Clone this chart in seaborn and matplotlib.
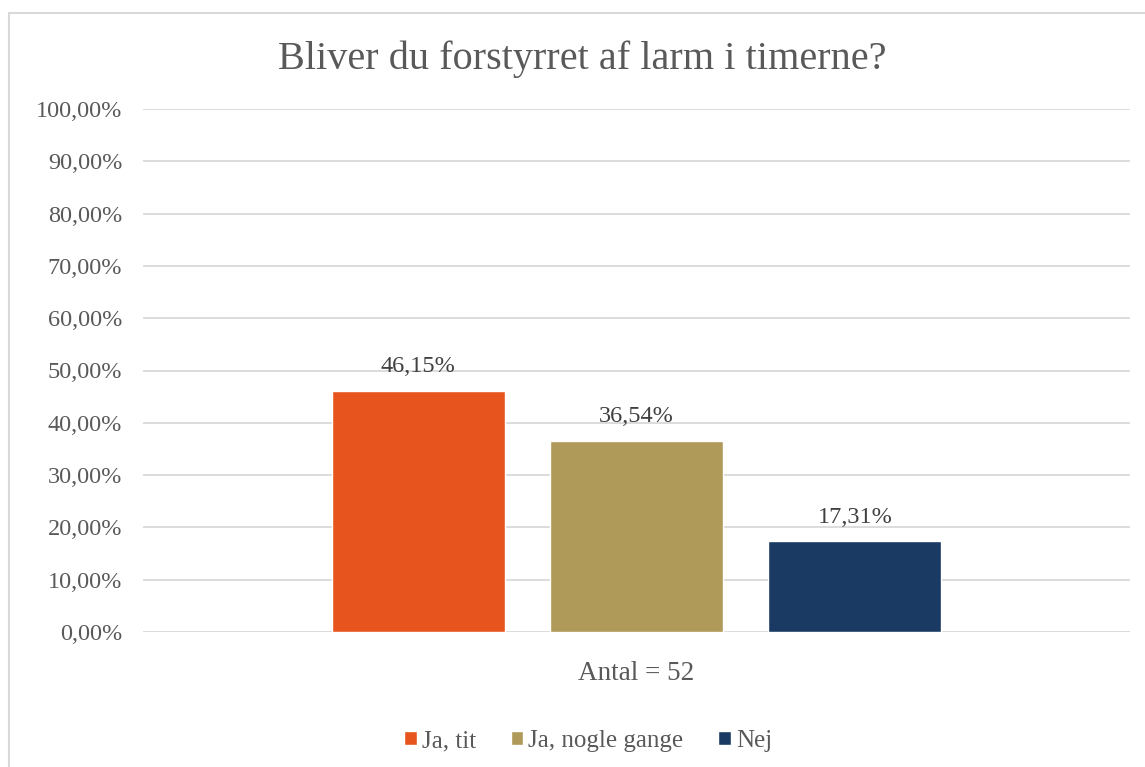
import matplotlib
matplotlib.use("Agg")
import matplotlib.pyplot as plt
import seaborn as sns
import pandas as pd
from matplotlib.patches import Rectangle
from matplotlib.ticker import FuncFormatter

title = "Bliver du forstyrret af larm i timerne?"
group_label = "Antal = 52"
answers = ["Ja, tit", "Ja, nogle gange", "Nej"]
values = [46.15, 36.54, 17.31]
colors = ["#E8541E", "#B09A59", "#1A3A63"]
yticks = [0, 10, 20, 30, 40, 50, 60, 70, 80, 90, 100]

sns.set_theme(style="white")
plt.rcParams['font.family'] = ['Liberation Serif', 'DejaVu Serif']
text_color = "#595959"

df = pd.DataFrame({"group": [group_label] * 3, "answer": answers, "value": values})

fig = plt.figure(figsize=(11.45, 7.67), dpi=100)
fig.patches.append(Rectangle((9 / 1145, -0.05), 1.2, (767 - 13) / 767 + 0.05,
                             transform=fig.transFigure, fill=False,
                             edgecolor="#D9D9D9", linewidth=1.5, zorder=0))
ax = fig.add_axes([143 / 1145, (767 - 632) / 767, (1130 - 143) / 1145, (632 - 109) / 767])

sns.barplot(data=df, x="group", y="value", hue="answer", hue_order=answers,
            palette=colors, width=0.664, gap=0.208, ax=ax, legend=False,
            saturation=1, zorder=3)

ax.set_xlim(-0.5, 0.5)
ax.set_ylim(0, 100)
ax.set_yticks(yticks)
ax.yaxis.set_major_formatter(FuncFormatter(lambda v, p: f"{v:.2f}%".replace(".", ",")))
ax.grid(axis="y", color="#D9D9D9", linewidth=1.3, zorder=0)
for s in ax.spines.values():
    s.set_visible(False)
ax.tick_params(axis="y", labelsize=17.5, colors=text_color, length=0, pad=15)
ax.tick_params(axis="x", labelsize=19.5, colors=text_color, length=0, pad=21)
ax.set_xlabel("")
ax.set_ylabel("")

for cont in ax.containers:
    ax.bar_label(cont, labels=[f"{v:.2f}%".replace(".", ",") for v in cont.datavalues],
                 padding=10, fontsize=17.5, color="#404040")

fig.text(582 / 1145, 1 - 59 / 767, title, ha="center", va="center",
         fontsize=29, color=text_color)

handles = [Rectangle((0, 0), 1, 1, facecolor=c) for c in colors]
fig.legend(handles, answers, loc="center", bbox_to_anchor=(588 / 1145, 1 - 741 / 767),
           ncol=3, frameon=False, fontsize=18, labelcolor=text_color,
           handlelength=0.5, handleheight=0.5, handletextpad=0.2, columnspacing=1.4)

fig.savefig("out.png", dpi=100, facecolor="white")
